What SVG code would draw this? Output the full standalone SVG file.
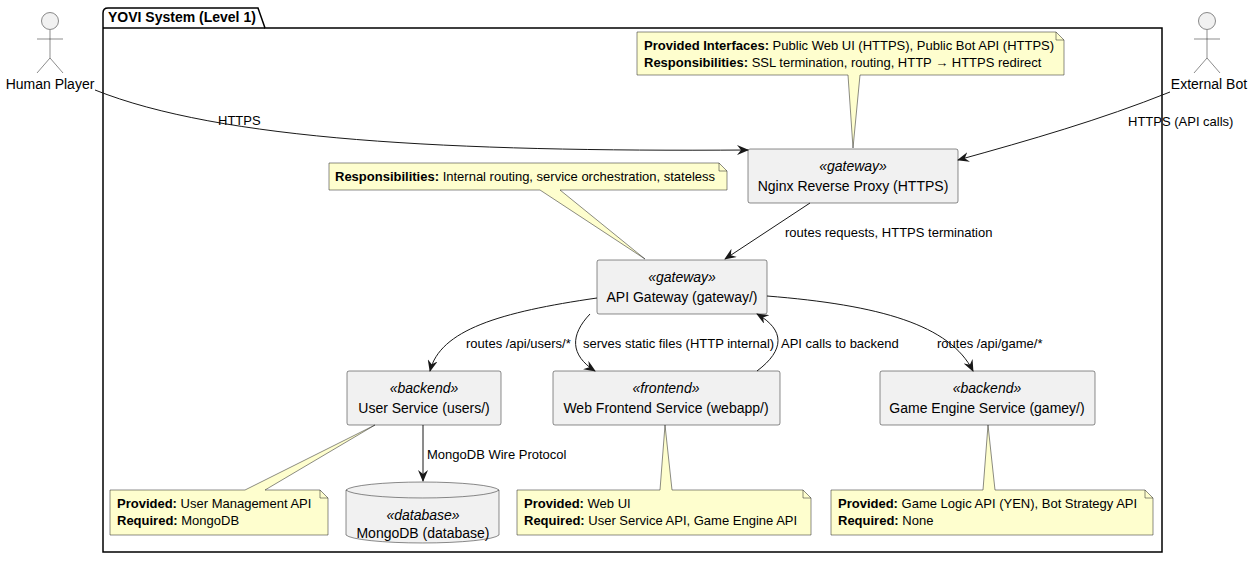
<svg xmlns="http://www.w3.org/2000/svg" width="1251" height="561" viewBox="0 0 1251 561">
<style>
text{font-family:"Liberation Sans",Arial,sans-serif;font-size:13px;fill:#000}
.n{font-size:14px}
.c{text-anchor:middle}
.b{font-weight:bold}
.i{font-style:italic}
.node{fill:#f1f1f1;stroke:#181818;stroke-width:0.5}
.note{fill:#fefece;stroke:#181818;stroke-width:0.5}
.e{fill:none;stroke:#181818;stroke-width:1}
.actor{fill:none;stroke:#181818;stroke-width:0.5}
</style>
<defs>
<marker id="a" viewBox="0 0 12 10" refX="11" refY="5" markerWidth="12" markerHeight="10" markerUnits="userSpaceOnUse" orient="auto">
<path d="M0,0 L12,5 L0,10 L4,5 Z" fill="#181818"/>
</marker>
</defs>
<rect width="1251" height="561" fill="#fff"/>
<g id="package">
<path d="M103,28 L103,13 Q103,8 108,8 L258,8 L265,28 L1162,28 L1162,552 L103,552 Z" fill="none" stroke="#000" stroke-width="1.5"/>
<line x1="103" y1="28" x2="265" y2="28" stroke="#000" stroke-width="1.5"/>
<text x="108" y="22" class="b n">YOVI System (Level 1)</text>
</g>
<g id="human">
<circle cx="50" cy="21" r="8.5" fill="#f1f1f1" stroke="#181818" stroke-width="0.5"/>
<path class="actor" d="M50,30 V58 M37,39 H63 M50,58 L37,73 M50,58 L63,73"/>
<text x="50" y="89" class="c n">Human Player</text>
</g>
<g id="bot">
<circle cx="1207" cy="21" r="8.5" fill="#f1f1f1" stroke="#181818" stroke-width="0.5"/>
<path class="actor" d="M1207,30 V58 M1194,39 H1220 M1207,58 L1194,73 M1207,58 L1220,73"/>
<text x="1209" y="89" class="c n">External Bot</text>
</g>
<g id="nginx">
<rect class="node" x="748" y="149" width="210" height="54" rx="2"/>
<text x="853" y="171" class="c i n">«gateway»</text>
<text x="853" y="191" class="c n">Nginx Reverse Proxy (HTTPS)</text>
</g>
<g id="gateway">
<rect class="node" x="597" y="260" width="170" height="54" rx="2"/>
<text x="682" y="282" class="c i n">«gateway»</text>
<text x="682" y="302" class="c n">API Gateway (gateway/)</text>
</g>
<g id="users">
<rect class="node" x="347" y="371" width="154" height="54" rx="2"/>
<text x="424" y="393" class="c i n">«backend»</text>
<text x="424" y="413" class="c n">User Service (users/)</text>
</g>
<g id="webapp">
<rect class="node" x="553" y="371" width="227" height="54" rx="2"/>
<text x="666" y="393" class="c i n">«frontend»</text>
<text x="666" y="413" class="c n">Web Frontend Service (webapp/)</text>
</g>
<g id="gamey">
<rect class="node" x="880" y="371" width="215" height="54" rx="2"/>
<text x="987" y="393" class="c i n">«backend»</text>
<text x="987" y="413" class="c n">Game Engine Service (gamey/)</text>
</g>
<g id="mongo">
<path class="node" d="M346,490 A77,9 0 0 1 499,490 V535 A77,9 0 0 1 346,535 Z"/>
<path d="M346,490 A77,9 0 0 0 499,490" fill="none" stroke="#181818" stroke-width="0.5"/>
<text x="423" y="520" class="c i n">«database»</text>
<text x="423" y="538" class="c n">MongoDB (database)</text>
</g>
<g id="note-nginx">
<path class="note" d="M637,32 H1056 L1064,40 V75 H860 L853,148 L848,75 H637 Z"/>
<path d="M1056,32 V40 H1064" fill="none" stroke="#181818" stroke-width="0.5"/>
<text x="644" y="50"><tspan class="b">Provided Interfaces:</tspan> Public Web UI (HTTPS), Public Bot API (HTTPS)</text>
<text x="644" y="67"><tspan class="b">Responsibilities:</tspan> SSL termination, routing, HTTP → HTTPS redirect</text>
</g>
<g id="note-gateway">
<path class="note" d="M329,163 H719 L727,171 V190 H560 L645,259 L540,190 H329 Z"/>
<path d="M719,163 V171 H727" fill="none" stroke="#181818" stroke-width="0.5"/>
<text x="335" y="181"><tspan class="b">Responsibilities:</tspan> Internal routing, service orchestration, stateless</text>
</g>
<g id="note-users">
<path class="note" d="M110,490 H245 L375,425 L265,490 H320 L328,498 V535 H110 Z"/>
<path d="M320,490 V498 H328" fill="none" stroke="#181818" stroke-width="0.5"/>
<text x="117" y="508"><tspan class="b">Provided:</tspan> User Management API</text>
<text x="117" y="525"><tspan class="b">Required:</tspan> MongoDB</text>
</g>
<g id="note-webapp">
<path class="note" d="M517,490 H660 L665,425 L672,490 H803 L811,498 V535 H517 Z"/>
<path d="M803,490 V498 H811" fill="none" stroke="#181818" stroke-width="0.5"/>
<text x="524" y="508"><tspan class="b">Provided:</tspan> Web UI</text>
<text x="524" y="525"><tspan class="b">Required:</tspan> User Service API, Game Engine API</text>
</g>
<g id="note-gamey">
<path class="note" d="M831,490 H983 L988,425 L995,490 H1145 L1153,498 V535 H831 Z"/>
<path d="M1145,490 V498 H1153" fill="none" stroke="#181818" stroke-width="0.5"/>
<text x="838" y="508"><tspan class="b">Provided:</tspan> Game Logic API (YEN), Bot Strategy API</text>
<text x="838" y="525"><tspan class="b">Required:</tspan> None</text>
</g>
<g id="connectors">
<path class="e" marker-end="url(#a)" d="M95,90 C220,140 450,152 748,150"/>
<text x="218" y="125">HTTPS</text>
<path class="e" marker-end="url(#a)" d="M1170,92 C1100,120 1030,140 958,160"/>
<text x="1128" y="126">HTTPS (API calls)</text>
<path class="e" marker-end="url(#a)" d="M810,203 L725,259"/>
<text x="785" y="237">routes requests, HTTPS termination</text>
<path class="e" marker-end="url(#a)" d="M597,298 C500,312 440,330 430,371"/>
<text x="466" y="348">routes /api/users/*</text>
<path class="e" marker-end="url(#a)" d="M590,314 C570,335 570,355 595,371"/>
<text x="583" y="348">serves static files (HTTP internal)</text>
<path class="e" marker-end="url(#a)" d="M757,371 C785,350 785,330 757,314"/>
<text x="781" y="348">API calls to backend</text>
<path class="e" marker-end="url(#a)" d="M767,296 C880,305 950,325 973,371"/>
<text x="937" y="348">routes /api/game/*</text>
<path class="e" marker-end="url(#a)" d="M423,425 L423,481"/>
<text x="427" y="459">MongoDB Wire Protocol</text>
</g>
</svg>
